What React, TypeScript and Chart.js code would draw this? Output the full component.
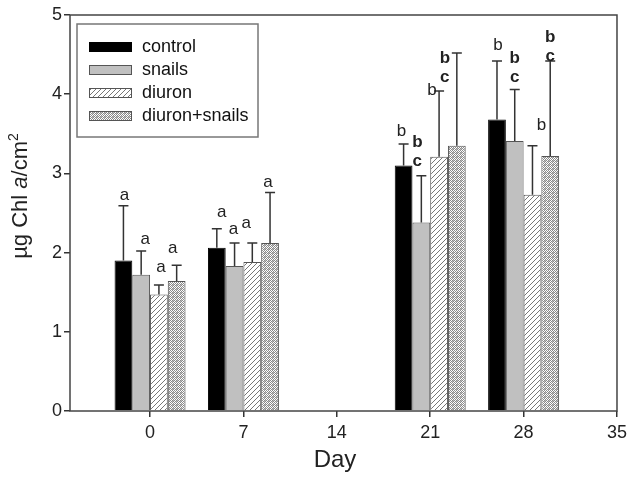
import React, { useEffect, useRef } from "react";
import { Chart, registerables } from "chart.js";

Chart.register(...registerables);

// ---------------- data ----------------
const days = [0, 7, 21, 28];
const xTickValues = [0, 7, 14, 21, 28, 35];
const seriesNames = ["control", "snails", "diuron", "diuron+snails"];

const controlMean = [1.9, 2.06, 3.1, 3.68];
const snailsMean = [1.72, 1.83, 2.38, 3.41];
const diuronMean = [1.47, 1.88, 3.21, 2.73];
const comboMean = [1.64, 2.12, 3.35, 3.22];

const controlSD = [0.69, 0.24, 0.27, 0.74];
const snailsSD = [0.3, 0.29, 0.59, 0.65];
const diuronSD = [0.12, 0.24, 0.83, 0.62];
const comboSD = [0.2, 0.64, 1.17, 1.2];

// significance letters (top to bottom), per series per day
const controlLetters = [["a"], ["a"], ["b"], ["b"]];
const snailsLetters = [["a"], ["a"], ["b", "c"], ["b", "c"]];
const diuronLetters = [["a"], ["a"], ["b"], ["b"]];
const comboLetters = [["a"], ["a"], ["b", "c"], ["b", "c"]];
const boldLetters = [false, true, false, true];

// ---------------- layout (px) ----------------
// offset of lowest letter from error-bar cap: [dx, dy]
const letterOffsets = [
  [[1, -11], [5, -17], [-2, -13], [1, -16]],
  [[4, -12], [-1, -14], [-4, -14], [0, -12]],
  [[2, -18], [-6, -20], [-7, -1], [9, -20]],
  [[-4, -17], [-2, -10], [-12, 24], [0, -5]],
];
const FONT = "'Liberation Sans', Arial, Helvetica, sans-serif";

function makeHatch(): CanvasPattern | string {
  const c = document.createElement("canvas");
  c.width = 5;
  c.height = 5;
  const g = c.getContext("2d");
  if (!g) return "#fff";
  g.fillStyle = "#fff";
  g.fillRect(0, 0, 5, 5);
  g.strokeStyle = "#777";
  g.lineWidth = 1;
  g.beginPath();
  g.moveTo(-1, 6);
  g.lineTo(6, -1);
  g.moveTo(-1, 1);
  g.lineTo(1, -1);
  g.moveTo(4, 6);
  g.lineTo(6, 4);
  g.stroke();
  return g.createPattern(c, "repeat") || "#fff";
}

function makeCross(): CanvasPattern | string {
  const c = document.createElement("canvas");
  c.width = 4;
  c.height = 4;
  const g = c.getContext("2d");
  if (!g) return "#ccc";
  g.fillStyle = "#fff";
  g.fillRect(0, 0, 4, 4);
  g.fillStyle = "#8a8a8a";
  g.fillRect(0, 0, 1, 1);
  g.fillRect(2, 0, 1, 1);
  g.fillRect(1, 1, 1, 1);
  g.fillRect(3, 1, 1, 1);
  g.fillRect(0, 2, 1, 1);
  g.fillRect(2, 2, 1, 1);
  g.fillRect(1, 3, 1, 1);
  g.fillRect(3, 3, 1, 1);
  g.fillStyle = "#bdbdbd";
  g.fillRect(1, 0, 1, 1);
  g.fillRect(0, 1, 1, 1);
  return g.createPattern(c, "repeat") || "#ccc";
}

export default function App() {
  const ref = useRef<HTMLCanvasElement | null>(null);

  useEffect(() => {
    document.body.style.margin = "0";
    const canvas = ref.current;
    if (!canvas) return;

    const means = [controlMean, snailsMean, diuronMean, comboMean];
    const sds = [controlSD, snailsSD, diuronSD, comboSD];
    const letters = [controlLetters, snailsLetters, diuronLetters, comboLetters];
    const fills: (string | CanvasPattern)[] = ["#000", "#c0c0c0", makeHatch(), makeCross()];
    const borders = ["#000", "#555", "#555", "#555"];

    const datasets = seriesNames.map((name, si) => ({
      label: name,
      data: days.map((d, i) => ({ x: d, y: means[si][i] })),
      backgroundColor: fills[si],
      borderColor: borders[si],
      borderWidth: 1,
      borderSkipped: "bottom" as const,
      categoryPercentage: 0.76,
      barPercentage: 1,
    }));

    const overlay = {
      id: "overlay",
      afterDatasetsDraw(chart: any) {
        const ctx = chart.ctx;
        const yS = chart.scales.y;
        ctx.save();
        // error bars
        chart.data.datasets.forEach((_: any, si: number) => {
          const meta = chart.getDatasetMeta(si);
          meta.data.forEach((el: any, i: number) => {
            const top = yS.getPixelForValue(means[si][i] + sds[si][i]);
            ctx.strokeStyle = "#333";
            ctx.lineWidth = 1.5;
            ctx.beginPath();
            ctx.moveTo(el.x, el.y);
            ctx.lineTo(el.x, top);
            ctx.moveTo(el.x - 5, top);
            ctx.lineTo(el.x + 5, top);
            ctx.stroke();
            // letters
            const ls = letters[si][i];
            const [dx, dy] = letterOffsets[si][i];
            const bold = boldLetters[si] && i >= 2;
            ctx.fillStyle = "#222";
            ctx.font = `${bold ? "bold " : ""}17px ${FONT}`;
            ctx.textAlign = "center";
            ctx.textBaseline = "middle";
            for (let k = 0; k < ls.length; k++) {
              const fromBottom = ls.length - 1 - k;
              ctx.fillText(ls[k], el.x + dx, top + dy - fromBottom * 19);
            }
          });
        });
        ctx.restore();
      },
      afterDraw(chart: any) {
        const ctx = chart.ctx;
        const a = chart.chartArea;
        ctx.save();
        // frame
        ctx.strokeStyle = "#444";
        ctx.lineWidth = 1.5;
        ctx.strokeRect(a.left, a.top, a.right - a.left, a.bottom - a.top);

        // legend
        const lx = 77, ly = 24, lw = 181, lh = 113;
        ctx.strokeStyle = "#777";
        ctx.lineWidth = 1.5;
        ctx.strokeRect(lx, ly, lw, lh);
        seriesNames.forEach((name, si) => {
          const cy = 47 + si * 23;
          ctx.fillStyle = fills[si] as any;
          ctx.fillRect(89, cy - 5, 43, 10);
          ctx.strokeStyle = borders[si];
          ctx.lineWidth = 1;
          ctx.strokeRect(89.5, cy - 4.5, 42, 9);
          ctx.fillStyle = "#111";
          ctx.font = `18px ${FONT}`;
          ctx.textAlign = "left";
          ctx.textBaseline = "middle";
          ctx.fillText(name, 142, cy);
        });

        // x title
        ctx.fillStyle = "#222";
        ctx.font = `24px ${FONT}`;
        ctx.textAlign = "center";
        ctx.textBaseline = "alphabetic";
        ctx.fillText("Day", 335, 467);

        // y title (rotated, mixed styles)
        const parts = [
          { t: "µg Chl ", f: `22px ${FONT}`, dy: 0 },
          { t: "a", f: `italic 22px ${FONT}`, dy: 0 },
          { t: "/cm", f: `22px ${FONT}`, dy: 0 },
          { t: "2", f: `14px ${FONT}`, dy: -9 },
        ];
        let total = 0;
        const widths = parts.map((p) => {
          ctx.font = p.f;
          const w = ctx.measureText(p.t).width;
          total += w;
          return w;
        });
        ctx.translate(27, 196);
        ctx.rotate(-Math.PI / 2);
        let x = -total / 2;
        ctx.textAlign = "left";
        parts.forEach((p, i) => {
          ctx.font = p.f;
          ctx.fillText(p.t, x, p.dy);
          x += widths[i];
        });
        ctx.restore();
      },
    };

    const chart = new Chart(canvas, {
      type: "bar",
      data: { datasets: datasets as any },
      options: {
        animation: false,
        responsive: false,
        layout: { padding: { top: 15, right: 13, left: 0, bottom: 0 } },
        plugins: { legend: { display: false }, tooltip: { enabled: false } },
        scales: {
          x: {
            type: "linear",
            min: -6,
            max: 35,
            offset: false,
            grid: {
              offset: false,
              drawOnChartArea: false,
              drawTicks: true,
              tickLength: 6,
              color: "#333",
              lineWidth: 1.5,
            },
            border: { display: false },
            afterBuildTicks: (scale: any) => {
              scale.ticks = xTickValues.map((v) => ({ value: v }));
            },
            afterFit: (scale: any) => {
              scale.height = 68;
            },
            ticks: {
              autoSkip: false,
              maxRotation: 0,
              padding: 5,
              color: "#222",
              font: { family: FONT, size: 18 },
            },
          },
          y: {
            type: "linear",
            min: 0,
            max: 5,
            grid: {
              drawOnChartArea: false,
              drawTicks: true,
              tickLength: 6,
              color: "#333",
              lineWidth: 1.5,
            },
            border: { display: false },
            afterFit: (scale: any) => {
              scale.width = 70;
            },
            ticks: {
              stepSize: 1,
              padding: 2,
              color: "#222",
              font: { family: FONT, size: 18 },
            },
          },
        },
      },
      plugins: [overlay],
    });

    return () => chart.destroy();
  }, []);

  return (
    <div style={{ width: 632, height: 479 }}>
      <canvas ref={ref} width={632} height={479} />
    </div>
  );
}
